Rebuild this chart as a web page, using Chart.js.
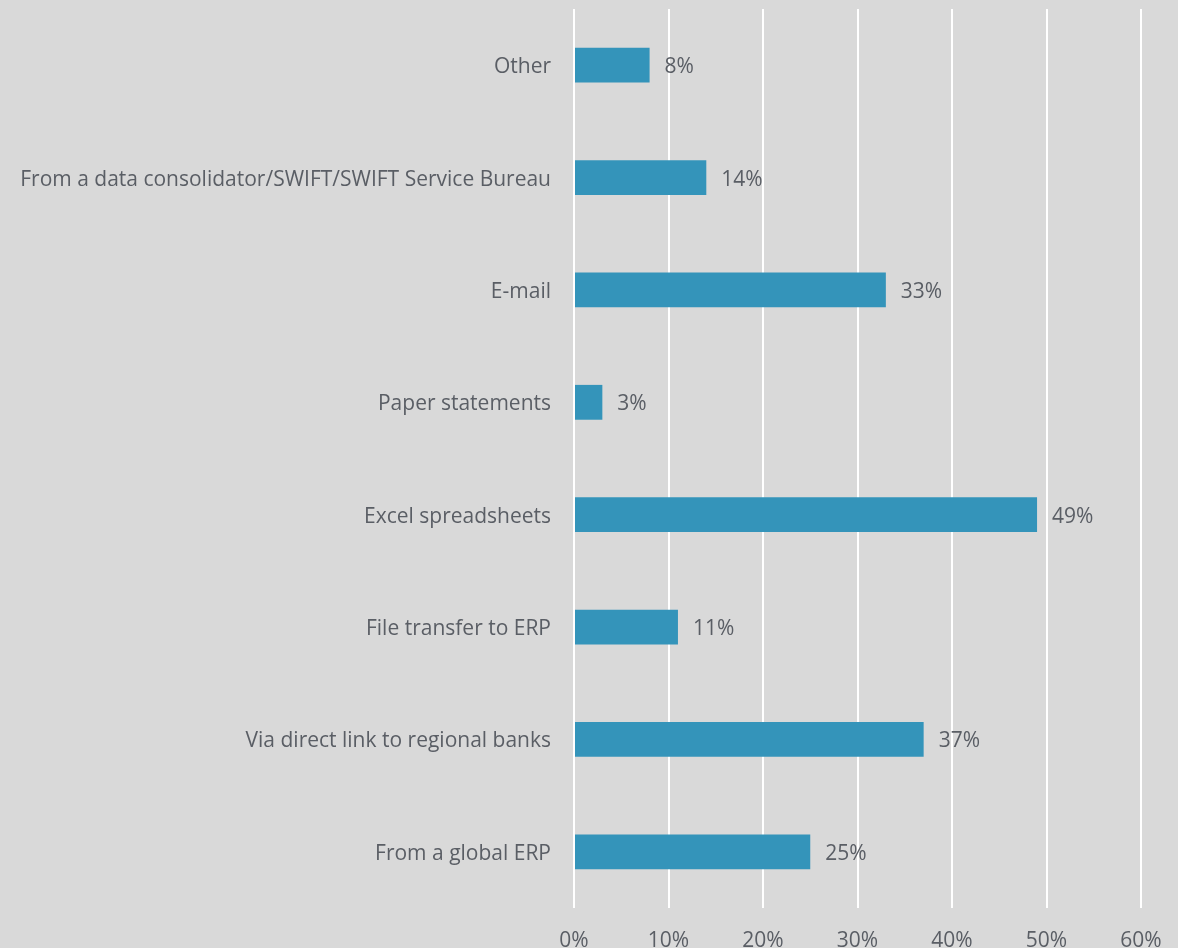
<!DOCTYPE html>
<html>
<head>
<meta charset="utf-8">
<script src="https://cdn.jsdelivr.net/npm/chart.js@4/dist/chart.umd.min.js"></script>
<style>
  html, body { margin: 0; padding: 0; background: #d9d9d9; }
  #wrap { width: 1178px; height: 948px; position: relative; }
</style>
</head>
<body>
<div id="wrap"><canvas id="c" width="1178" height="948"></canvas></div>
<script>
// Channels used to gather bank statement data (share of respondents)
const categories = [
  'Other',
  'From a data consolidator/SWIFT/SWIFT Service Bureau',
  'E-mail',
  'Paper statements',
  'Excel spreadsheets',
  'File transfer to ERP',
  'Via direct link to regional banks',
  'From a global ERP'
];
const shares = [8, 14, 33, 3, 49, 11, 37, 25];
const xTickValues = [0, 10, 20, 30, 40, 50, 60];

const FONT = '"Open Sans", "Noto Sans", sans-serif';
const TEXT = '#5a5e65';

// Writes each bar's percentage just past its end
const valueLabels = {
  id: 'valueLabels',
  afterDatasetsDraw(chart) {
    const ctx = chart.ctx;
    const meta = chart.getDatasetMeta(0);
    ctx.save();
    ctx.font = '21px ' + FONT;
    ctx.fillStyle = TEXT;
    ctx.textAlign = 'left';
    ctx.textBaseline = 'middle';
    meta.data.forEach((bar, i) => {
      const v = chart.data.datasets[0].data[i];
      ctx.fillText(v + '%', bar.x + 15, bar.y + 2);
    });
    ctx.restore();
  }
};

new Chart(document.getElementById('c'), {
  type: 'bar',
  data: {
    labels: categories,
    datasets: [{
      data: shares,
      backgroundColor: '#3494ba',
      borderWidth: 0,
      categoryPercentage: 1,
      barPercentage: 0.31
    }]
  },
  options: {
    indexAxis: 'y',
    responsive: false,
    animation: false,
    layout: { padding: { top: 9, right: 37, left: 0, bottom: 0 } },
    plugins: { legend: { display: false }, tooltip: { enabled: false } },
    scales: {
      x: {
        min: 0,
        max: 60,
        afterBuildTicks(scale) { scale.ticks = xTickValues.map(v => ({ value: v })); },
        afterFit(scale) { scale.height = 40; scale.paddingLeft = 0; scale.paddingRight = 0; },
        grid: { color: '#ffffff', lineWidth: 2, drawTicks: false },
        border: { display: false },
        ticks: {
          padding: 20,
          color: TEXT,
          font: { family: FONT, size: 21 },
          maxRotation: 0,
          callback: v => v + '%'
        }
      },
      y: {
        afterFit(scale) { scale.width = 574; scale.paddingTop = 0; scale.paddingBottom = 0; },
        grid: { display: false, drawTicks: false },
        border: { display: false },
        ticks: {
          padding: 23,
          labelOffset: 2,
          color: TEXT,
          font: { family: FONT, size: 21 }
        }
      }
    }
  },
  plugins: [valueLabels]
});
</script>
</body>
</html>
